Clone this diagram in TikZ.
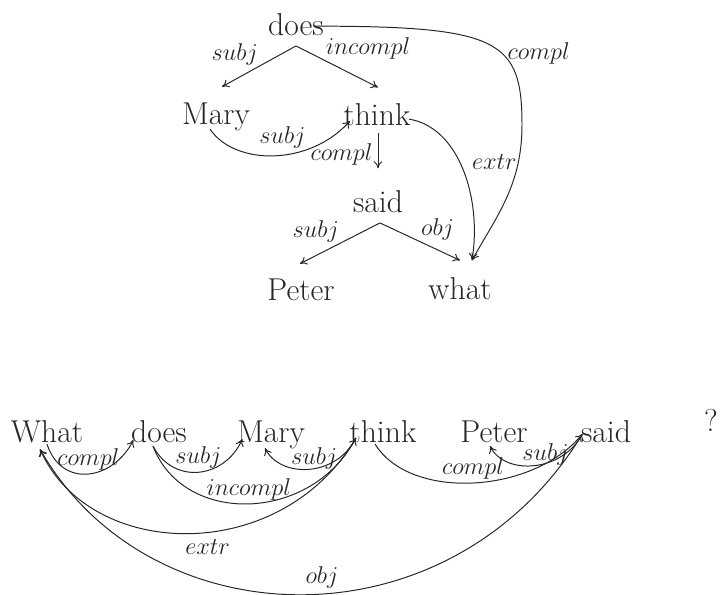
\documentclass[tikz,border=0pt]{standalone}
\usetikzlibrary{arrows.meta, positioning, calc}

\begin{document}
\begin{tikzpicture}[
  x=0.25mm, y=0.25mm,
  word/.style={font=\fontsize{22.5}{27}\selectfont, inner sep=1pt, anchor=base, text=black!85},
  rel/.style={font=\fontsize{16.5}{20}\selectfont, inner sep=0.5pt, text=black!85},
  dep/.style={draw=black!85, line width=0.7pt, -{To[length=5pt,width=6pt]}}
]
  \useasboundingbox (0,0) rectangle (720,-594);

  % dependency tree
  \node[word] (does)  at (296,-35)  {does};
  \node[word] (Mary)  at (216,-124) {Mary};
  \node[word] (think) at (377,-125) {think};
  \node[word] (said)  at (378,-212) {said};
  \node[word] (Peter) at (301,-300) {Peter};
  \node[word] (what)  at (460,-299) {what};

  \draw[dep] ($(does.south)+(0,-9)$) -- ($(Mary.north)+(6,14)$)
    node[rel, midway, above left] (t-subj1) {$subj$};
  \draw[dep] ($(does.south)+(0,-9)$) -- ($(think.north)+(1,14)$)
    node[rel, pos=0.35, above right] (t-incompl) {$incompl$};
  \draw[dep] ($(Mary.south)+(-6,3)$) .. controls +(25,-37) and +(-40,-45) .. ($(think.south west)+(8,6)$)
    node[rel, pos=0.55, above=4pt] (t-subj2) {$subj$};
  \draw[dep] ($(think.south)+(1,-6)$) -- ($(said.north)+(0,20)$)
    node[rel, pos=0.6, left=3pt] (t-compl1) {$compl$};
  \draw[dep] ($(think.east)+(-3,-5)$) .. controls +(50,-8) and +(10,62) .. ($(what.north)+(12,15)$)
    node[rel, pos=0.45, right=8pt] (t-extr) {$extr$};
  \draw[dep] ($(does.east)+(-11,-2)$) .. controls +(185,0) and +(0,85) .. (522,-125)
    node[rel, pos=0.6, right=3pt] (t-compl2) {$compl$}
    .. controls +(0,-60) and +(25,45) .. ($(what.north)+(12,15)$);
  \draw[dep] ($(said.south)+(2,-9)$) -- ($(Peter.north)+(-1,13)$)
    node[rel, midway, above left] (t-subj3) {$subj$};
  \draw[dep] ($(said.south)+(2,-9)$) -- ($(what.north)+(0,15)$)
    node[rel, midway, above right] (t-obj) {$obj$};

  % linear order
  \node[word] (What2)  at (47,-442)  {What};
  \node[word] (does2)  at (159,-442) {does};
  \node[word] (Mary2)  at (271,-442) {Mary};
  \node[word] (think2) at (383,-442) {think};
  \node[word] (Peter2) at (494,-442) {Peter};
  \node[word] (said2)  at (606,-442) {said};
  \node[word] (qmark)  at (711,-431) {?};

  \draw[dep] (What2.south) .. controls +(15,-45) and +(-20,-40) .. ($(does2.south west)+(4,4)$)
    node[rel, midway, above=2pt] (b-compl1) {$compl$};
  \draw[dep] ($(does2.south)+(-6,-2)$) .. controls +(20,-39) and +(-18,-40) .. ($(Mary2.south west)+(7,11)$)
    node[rel, midway, above=2pt] (b-subj1) {$subj$};
  \draw[dep] ($(does2.south)+(-6,-2)$) .. controls +(30,-80) and +(-45,-85) .. ($(think2.south west)+(8,6)$)
    node[rel, midway, above=2pt] (b-incompl) {$incompl$};
  \draw[dep] ($(think2.south west)+(8,6)$) .. controls +(-20,-40) and +(15,-30) .. ($(Mary2.south)+(-6,2)$)
    node[rel, pos=0.45, above=-1.5pt] (b-subj2) {$subj$};
  \draw[dep] ($(think2.south west)+(8,6)$) .. controls +(-75,-128) and +(50,-112) .. ($(What2.south)+(-7,-5)$)
    node[rel, pos=0.45, below=4pt] (b-extr) {$extr$};
  \draw[dep] ($(said2.west)+(3,-3)$) .. controls +(-132,-216) and +(110,-192) .. ($(What2.south)+(-7,-5)$)
    node[rel, pos=0.47, above=3pt] (b-obj) {$obj$};
  \draw[dep] ($(think2.south)+(-8,0)$) .. controls +(35,-57) and +(-50,-60) .. ($(said2.west)+(3,-3)$)
    node[rel, midway, above=2pt] (b-compl2) {$compl$};
  \draw[dep] ($(said2.west)+(3,-3)$) .. controls +(-20,-38) and +(15,-30) .. ($(Peter2.south)+(-4,-2)$)
    node[rel, pos=0.4, above=-2pt] (b-subj3) {$subj$};
\end{tikzpicture}
\end{document}
